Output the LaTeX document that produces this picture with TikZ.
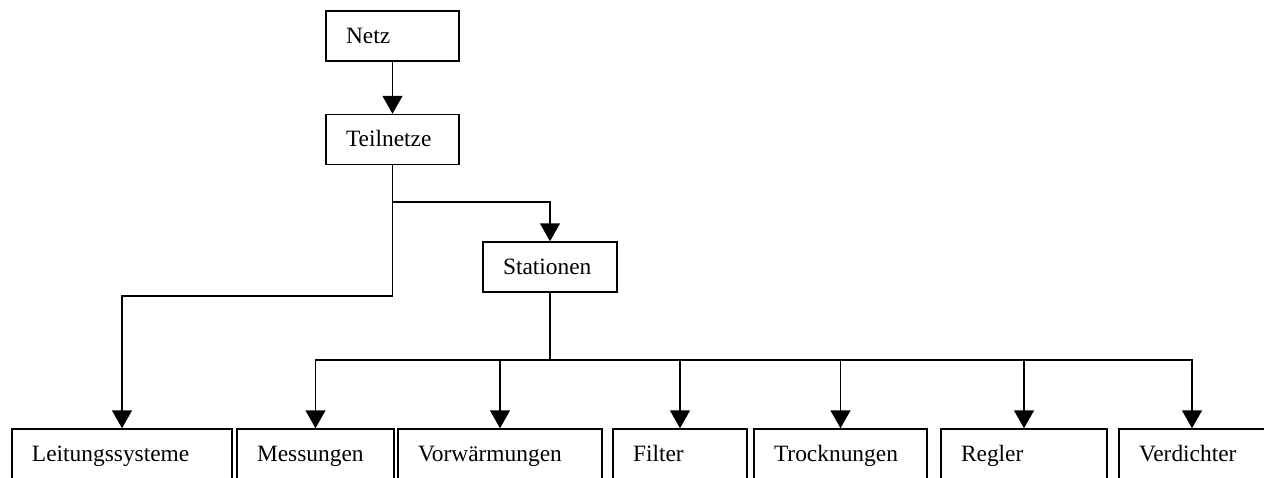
\documentclass[tikz,border=0pt]{standalone}
\usepackage{fontspec}
\setmainfont{Liberation Serif}
\usepackage{tikz}
\usetikzlibrary{arrows.meta,positioning,calc}
\tikzset{
  unit box/.style={
    draw,
    rectangle,
    minimum height=25pt,
    inner xsep=10pt,
    inner ysep=0pt,
    text height=9pt,
    text depth=2pt,
    align=left,
    font=\fontsize{11.7}{14}\selectfont
  },
  wide box/.style={
    unit box,
    minimum width=#1,
    text width=#1-20pt
  }
}

\begin{document}
\begin{tikzpicture} [->, >={Triangle[width=10pt,length=9pt]}, x=0.5pt, y=-0.5pt,
  line width=0.75pt]%coordinates in pixels of the sketch
 \useasboundingbox (0,0) rectangle (1264,477);

 \node[wide box=66.5pt] (netz) at (392.5,36) {Netz};
 \node[wide box=66.5pt] (teilnetze) at (392.5,139.5) {Teilnetze};
 \node[wide box=67pt] (stationen) at (550,267) {Stationen};

 \node[wide box=110pt] (leitung) at (122,454) {Leitungssysteme};
 \node[wide box=78.5pt] (messung) at (315.5,454) {Messungen};
 \node[wide box=102pt] (vorwaerm) at (500,454) {Vorwärmungen};
 \node[wide box=67pt] (filter) at (680,454) {Filter};
 \node[wide box=86.5pt] (trocknung) at (840.5,454) {Trocknungen};
 \node[wide box=83pt] (regler) at (1024,454) {Regler};
 \node[wide box=73pt] (verdichter) at (1192,454) {Verdichter};

 \coordinate (fork) at (teilnetze.south |- 0,202);
 \coordinate (split) at (teilnetze.south |- 0,296);
 \coordinate (bus) at (stationen.south |- 0,360);

 \draw (netz) -- (teilnetze);
 \draw[-] (teilnetze.south) -- (split);
 \draw (fork) -| (stationen.north);
 \draw (split) -| (leitung.north);
 \draw[-] (stationen.south) -- (bus);
 \foreach \n in {messung,vorwaerm,filter,trocknung,regler,verdichter}
   \draw (bus) -| (\n.north);
\end{tikzpicture}
\end{document}
